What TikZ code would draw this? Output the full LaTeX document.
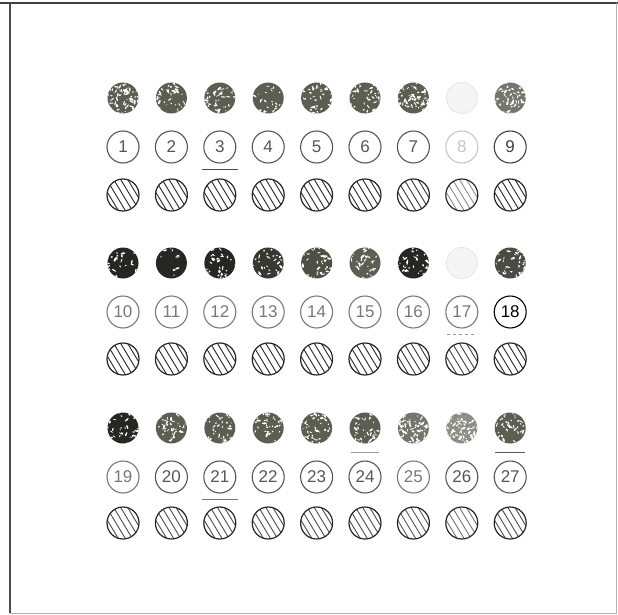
\documentclass[tikz,border=0pt]{standalone}
\usepackage{fontspec}
\setmainfont{Liberation Sans}
\definecolor{stipcol}{RGB}{92,94,82}
\definecolor{stipdark}{RGB}{38,38,34}
\definecolor{numgray}{RGB}{85,85,85}
\definecolor{numlight}{RGB}{120,120,120}
\begin{document}
\begin{tikzpicture}[x=1pt,y=-1pt,
  numc/.style={circle, draw=#1, line width=1.1pt, minimum size=32pt, inner sep=0pt, text=#1,
    font=\fontsize{17}{17}\selectfont},
  hatc/.style={circle, draw=black!85, line width=1.2pt, minimum size=32pt, inner sep=0pt,
    path picture={\foreach \d in {-42,-35,...,42}
      \draw[line width=0.9pt, #1] ([xshift=\d pt]path picture bounding box.center) ++(-12pt,20pt) -- ++(24pt,-40pt);}},
  stip/.style 2 args={circle, minimum size=31pt, inner sep=0pt, fill=#1,
    path picture={\foreach \k in {1,...,#2}{
      \pgfmathsetmacro\ax{rand*16}\pgfmathsetmacro\ay{rand*16}
      \pgfmathsetmacro\rxx{0.6+rnd*1.9}\pgfmathsetmacro\ryy{0.4+rnd*0.7}
      \pgfmathsetmacro\rot{rnd*180}
      \fill[white] ([shift={(\ax pt,\ay pt)}]path picture bounding box.center)
        ellipse[x radius=\rxx pt, y radius=\ryy pt, rotate=\rot];}}},
  faint/.style={circle, minimum size=31pt, inner sep=0pt, draw=gray!35, densely dotted, line width=0.8pt, fill=gray!8},
  uline/.style={line width=1.2pt, draw=#1}
]
\pgfmathsetseed{4242}
\useasboundingbox (0,0) rectangle (618,615);
% frame
\draw[line width=2pt, black!75] (0,3) coordinate (ftl0) -- (618,3) coordinate (ftr);
\draw[line width=1.4pt, black!70] (10,3) coordinate (ftl) -- (10,613) coordinate (fbl);
\draw[line width=0.8pt, black!30] (fbl) -- (616,613) coordinate (fbr) -- (616,3);
% stippled rows
\foreach \c/\col/\den in {1/stipcol/75,2/stipcol/40,3/stipcol/50,4/stipcol/40,5/stipcol/42,6/stipcol/45,7/stipcol/70,9/stipcol!85/65,
  10/stipdark/35,11/stipdark/22,12/stipdark/40,13/stipcol!60!black/35,14/stipcol!85!black/40,15/stipcol/45,16/stipdark/40,18/stipcol!80!black/45,
  19/stipdark/35,20/stipcol/55,21/stipcol/48,22/stipcol/42,23/stipcol/55,24/stipcol/48,25/stipcol!85/85,26/stipcol!70/95,27/stipcol/45}{
  \pgfmathsetmacro\gx{123+48.4*mod(\c-1,9)}
  \pgfmathsetmacro\gy{98+165*floor((\c-1)/9)}
  \node[stip={\col}{\den}] (s\c) at (\gx,\gy) {};
}
\node[faint] (s8) at (461.8,98) {};
\node[faint] (s17) at (461.8,263) {};
% numbered rows
\foreach \c/\tc in {1/numgray,2/numgray,3/numgray,4/numgray,5/numgray,6/numgray,7/numgray,8/gray!45,9/black!75,
  10/numlight,11/numlight,12/numlight,13/numlight,14/numlight,15/numlight,16/numlight,17/numlight,18/black,
  19/numlight,20/numgray,21/numgray,22/numgray,23/numgray,24/numgray,25/numlight,26/numgray,27/numgray}{
  \pgfmathsetmacro\gx{123+48.4*mod(\c-1,9)}
  \pgfmathsetmacro\gy{147+165*floor((\c-1)/9)}
  \node[numc=\tc] (n\c) at (\gx,\gy) {\c};
}
% hatched rows
\foreach \c/\hc in {1/black!85,2/black!85,3/black!85,4/black!85,5/black!85,6/black!85,7/black!80,8/black!45,9/black!85,
  10/black!85,11/black!85,12/black!85,13/black!85,14/black!85,15/black!85,16/black!80,17/black!75,18/black!85,
  19/black!70,20/black!70,21/black!70,22/black!70,23/black!70,24/black!70,25/black!65,26/black!55,27/black!70}{
  \pgfmathsetmacro\gx{123+48.4*mod(\c-1,9)}
  \pgfmathsetmacro\gy{195+164*floor((\c-1)/9)}
  \node[hatc=\hc] (h\c) at (\gx,\gy) {};
}
% underlines
\draw[uline=black!70] ([shift={(-18pt,-6pt)}]n3.south) -- ([shift={(18pt,-6pt)}]n3.south);
\draw[uline=black!40, dashed] ([shift={(-15pt,-6pt)}]n17.south) -- ([shift={(15pt,-6pt)}]n17.south);
\draw[uline=black!55] ([shift={(-18pt,-6pt)}]n21.south) -- ([shift={(18pt,-6pt)}]n21.south);
\draw[uline=black!40] ([shift={(-14pt,-9pt)}]s24.south) -- ([shift={(14pt,-9pt)}]s24.south);
\draw[uline=black!65] ([shift={(-15pt,-9pt)}]s27.south) -- ([shift={(15pt,-9pt)}]s27.south);
\end{tikzpicture}
\end{document}
